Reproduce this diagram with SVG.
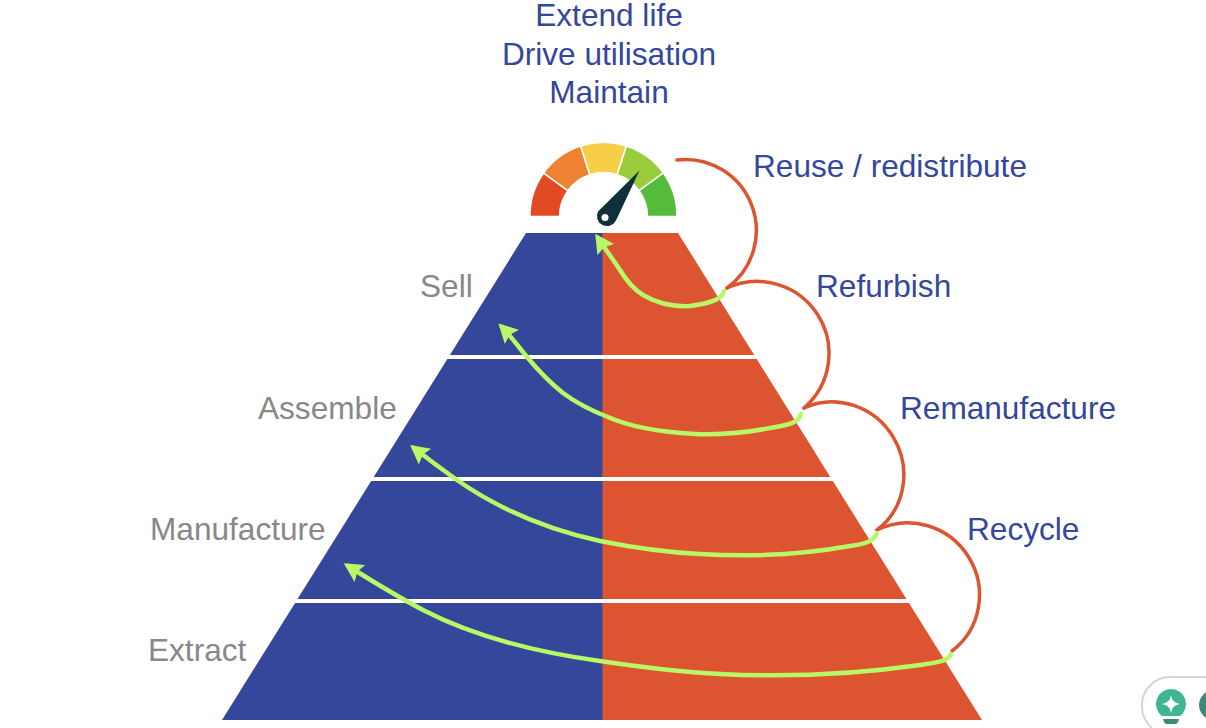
<svg xmlns="http://www.w3.org/2000/svg" width="1206" height="728" viewBox="0 0 1206 728">
<style>
text{font-family:"Liberation Sans",Arial,sans-serif;font-size:31.6px}
.b{fill:#34479A}.g{fill:#888888}
.m{text-anchor:middle}
.o{fill:none;stroke:#DD5430;stroke-width:3.5;stroke-linecap:round}
.l{fill:none;stroke:#B8F766;stroke-width:4.5;stroke-linecap:round;stroke-linejoin:round}
.a{marker-end:url(#h)}
.s{stroke:#fff;stroke-width:1.5}
</style>
<defs>
<marker id="h" markerUnits="userSpaceOnUse" markerWidth="24" markerHeight="24" refX="14" refY="10" orient="auto"><path d="M0 0L19 10L0 20L3 10Z" fill="#B8F766"/></marker>
</defs>
<rect width="1206" height="728" fill="#fff"/>
<g id="pyramid">
<path d="M526 233H603.500V720H222Z" fill="#34479A"/>
<path d="M602.500 233H678L982 720H602.500Z" fill="#DD5430"/>
<path d="M440 357H760M366 479H836M290 601H912" stroke="#fff" stroke-width="4" fill="none"/>
</g>
<g id="gauge" transform="translate(0 .5)">
<path class="s" fill="#E04B25" d="M530 216A73.500 73.500 0 0 1 543.600 172.500L567.900 190.100A44 44 0 0 0 559.500 216Z"/>
<path class="s" fill="#EE8230" d="M543.600 172.500A74 74 0 0 1 580.600 145.600L589.900 174.200A44 44 0 0 0 567.900 190.100Z"/>
<path class="s" fill="#F7CF47" d="M580.600 145.600A74 74 0 0 1 626.400 145.600L617.100 174.200A44 44 0 0 0 589.900 174.200Z"/>
<path class="s" fill="#9ACD3C" d="M626.400 145.600A74 74 0 0 1 663.400 172.500L639.100 190.100A44 44 0 0 0 617.100 174.200Z"/>
<path class="s" fill="#55BB3A" d="M663.400 172.500A74 74 0 0 1 677 216H647.500A44 44 0 0 0 639.100 190.100Z"/>
<path d="M639.500 170L616 220A8.500 8.500 0 1 1 598 211Z" fill="#10303E"/>
<circle cx="605" cy="217" r="3.500" fill="#fff"/>
</g>
<g id="connectors">
<path class="o" d="M677 160A71 71 0 0 1 727 288"/>
<path class="o" d="M727 288A72 72 0 0 1 804 408"/>
<path class="o" d="M804 408A71.500 69 59 0 1 877 530"/>
<path class="o" d="M877 530A71.500 70.300 58 0 1 952 651"/>
<path class="l a" d="M724 291C722 299 712 303 690 306C672 307 655 302 643 295C632 288 626 280 620 270C612 258 606 250 598 238"/>
<path class="l a" d="M801 414C799 422 790 425 770 428C745 433 720 435 695 434C660 432 630 427 608 417C590 410 575 402 563 393C548 381 537 369 527 357C517 345 510 335 502 327"/>
<path class="l a" d="M877 533C874 541 866 544 850 546C800 555 750 557 700 554C660 552 630 547 600 541C550 530 500 510 457 480C440 468 428 459 414 448"/>
<path class="l a" d="M951 654C948 661 940 662 920 665C850 675 780 677 720 674C680 672 640 667 600 661C535 652 475 637 423 610C398 597 372 581 348 566"/>
</g>
<g id="labels">
<text class="b m" x="609" y="26">Extend life</text>
<text class="b m" x="609" y="65">Drive utilisation</text>
<text class="b m" x="609" y="103">Maintain</text>
<text class="b" x="753" y="177">Reuse / redistribute</text>
<text class="b" x="816" y="297">Refurbish</text>
<text class="b" x="900" y="419">Remanufacture</text>
<text class="b" x="967" y="540">Recycle</text>
<text class="g" x="420" y="297">Sell</text>
<text class="g" x="258" y="419">Assemble</text>
<text class="g" x="150" y="540">Manufacture</text>
<text class="g" x="148" y="661">Extract</text>
</g>
<g id="widget">
<path d="M1206 677H1170A28 28 0 0 0 1142 705A28 28 0 0 0 1152 728" fill="none" stroke="#D2D4E2" stroke-width="2"/>
<path d="M1171 689A15 15 0 0 1 1180 716H1162A15 15 0 0 1 1171 689Z" fill="#3FB595"/>
<path d="M1163 719H1179Q1178 724 1175 724H1167Q1164 724 1163 719Z" fill="#3E8A78"/>
<path d="M1171 695Q1172 703 1180 704Q1172 705 1171 713Q1170 705 1162 704Q1170 703 1171 695Z" fill="#fff"/>
<circle cx="1214" cy="705" r="15" fill="#3E8A78"/>
</g>
</svg>
